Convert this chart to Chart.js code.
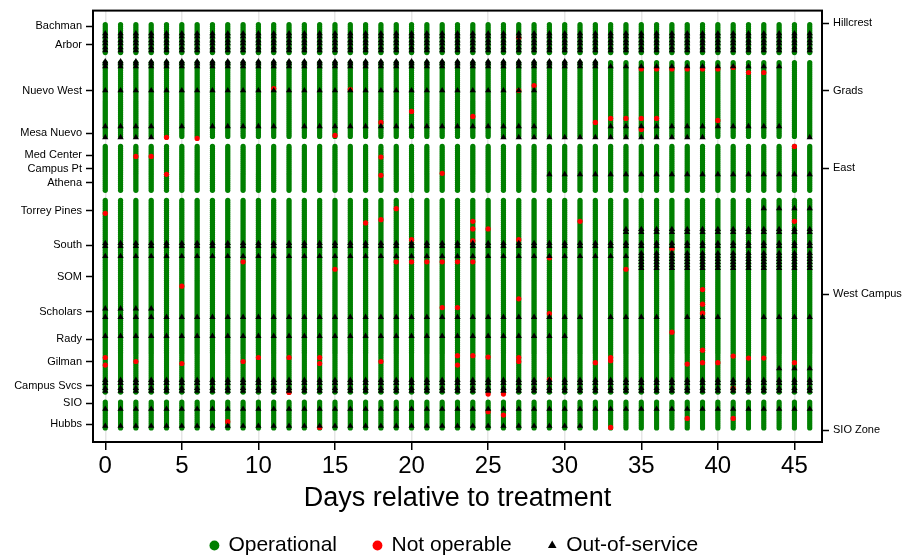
<!DOCTYPE html>
<html>
<head>
<meta charset="utf-8">
<script src="https://cdn.jsdelivr.net/npm/chart.js@4.4.1/dist/chart.umd.min.js"></script>
<style>
  html, body { margin: 0; padding: 0; background: #fff; }
  #wrap { width: 909px; height: 556px; position: relative; }
</style>
</head>
<body>
<div id="wrap"><canvas id="chart"></canvas></div>
<script>
// --- Data ---
const days = [0, 1, 2, 3, 4, 5, 6, 7, 8, 9, 10, 11, 12, 13, 14, 15, 16, 17, 18, 19, 20, 21, 22, 23,
              24, 25, 26, 27, 28, 29, 30, 31, 32, 33, 34, 35, 36, 37, 38, 39, 40, 41, 42, 43, 44, 45, 46];
const xTicks = [0, 5, 10, 15, 20, 25, 30, 35, 40, 45];

// zones (right axis) and the unit rows they hold
const zoneNames = ['Hillcrest', 'Grads', 'East', 'West Campus', 'SIO Zone'];
const zoneLabelRows = [209.7, 176, 137, 74, 6];
const zoneFirstRow = [195, 153, 126, 25, 7];
const zoneLastRow = [209, 190, 148, 121, 20];

// sites (left axis)
const siteNames = ['Bachman', 'Arbor', 'Nuevo West', 'Mesa Nuevo', 'Med Center', 'Campus Pt', 'Athena',
                   'Torrey Pines', 'South', 'SOM', 'Scholars', 'Rady', 'Gilman', 'Campus Svcs', 'SIO', 'Hubbs'];
const siteRows = [208.2, 199, 176, 154.7, 143.5, 136.9, 129.7, 115.7, 98.5, 82.7, 65.2, 51.4, 40.2, 28.2, 19.4, 8.9];

// out-of-service units: [row, first day, last day]
const outRuns = [
  [204.5, 0, 46], [203, 0, 46], [201, 0, 46], [199.5, 0, 46], [197.5, 0, 46], [196, 0, 46],
  [190.5, 0, 32], [189.5, 0, 32], [188, 0, 44],
  [176, 0, 28],
  [158, 0, 28], [158, 33, 44],
  [152.5, 0, 3], [152.5, 26, 39], [152.5, 46, 46],
  [134, 29, 46],
  [117, 43, 46],
  [106.5, 34, 46], [105, 34, 46],
  [99.5, 0, 46], [98, 0, 46],
  [94.5, 35, 46], [93, 0, 46], [91.5, 35, 46], [90, 35, 46], [88.5, 35, 46], [87, 35, 46],
  [66.8, 0, 3],
  [62.5, 0, 46],
  [53, 0, 30],
  [36.8, 44, 46],
  [31, 0, 46], [29.5, 0, 46], [27, 0, 46], [25.5, 0, 46],
  [16.5, 0, 46], [8, 0, 31]
];
const outSkip = [[4, 158], [6, 158], [12, 158], [32, 62.5], [37, 62.5], [41, 62.5], [42, 62.5]];

// not operable units: [day, row]
const notOperable = [
  [27, 202.5],
  [11, 177], [16, 176.5], [27, 176], [28, 178.5],
  [20, 165.5], [18, 160], [24, 163], [15, 153.5], [4, 152.5], [6, 152],
  [35, 186.8], [36, 186.8], [37, 186.8], [38, 186.8], [39, 186.8], [40, 186.8], [41, 187.5], [42, 185], [43, 185],
  [32, 160], [33, 162], [34, 162], [35, 162], [35, 156.5], [36, 162], [40, 161],
  [2, 143], [3, 143], [4, 134], [18, 142.7], [18, 133.5], [22, 134.5], [45, 148],
  [0, 114.5], [17, 109.7], [18, 111.3], [19, 116.8], [24, 110.5], [31, 110.5], [45, 110.5],
  [20, 101.3], [24, 106.7], [24, 100.7], [25, 106.7], [27, 101.3], [37, 96.8],
  [9, 90.2], [15, 86.5], [19, 90.2], [20, 90.2], [21, 90.2], [22, 90.2], [23, 90.2], [24, 90.2], [29, 92.2], [34, 86.5],
  [5, 78], [22, 67.3], [23, 67.3], [27, 71.7], [29, 64.3], [39, 76.3], [39, 69], [39, 64.5], [37, 55],
  [0, 42.3], [0, 38.5], [2, 40.3], [5, 39.3], [9, 40.3], [10, 42.3], [12, 42.3], [14, 42.3], [14, 39.3],
  [18, 40.3], [23, 43.2], [23, 38.5], [24, 43.2], [25, 42.5], [27, 42.3], [27, 40.3],
  [32, 39.7], [33, 42.3], [33, 40.7], [38, 39], [39, 46], [39, 39.7], [40, 39.7], [41, 43], [42, 42], [43, 42], [45, 39.7],
  [12, 24.8], [25, 24], [26, 24], [29, 31.3], [41, 26.8],
  [8, 10.2], [14, 7.3], [25, 15.2], [26, 13.5], [33, 7.3], [38, 11.8], [41, 11.8]
];

// --- Build point lists ---
const operationalPts = [];
days.forEach(d => {
  zoneFirstRow.forEach((lo, z) => {
    for (let r = lo; r <= zoneLastRow[z]; r++) operationalPts.push({ x: d, y: r });
  });
});

const outPts = [];
outRuns.forEach(([row, d0, d1]) => {
  days.forEach(d => {
    if (d < d0 || d > d1) return;
    if (outSkip.some(([sd, sr]) => sd === d && sr === row)) return;
    outPts.push({ x: d, y: row });
  });
});

const redPts = notOperable.map(([d, r]) => ({ x: d, y: r }));

// --- Chart ---
Chart.defaults.font.family = '"Liberation Sans", Arial, sans-serif';
Chart.defaults.color = '#000';

const legendHeight = 58;
const legendFit = {
  id: 'legendFit',
  beforeInit(chart) {
    const fit = chart.legend.fit;
    chart.legend.fit = function () { fit.call(this); this.height = legendHeight; };
  }
};

const frame = {
  id: 'frame',
  afterDatasetsDraw(chart) {
    const { ctx, chartArea: a } = chart;
    ctx.save();
    ctx.strokeStyle = '#000';
    ctx.lineWidth = 2;
    ctx.strokeRect(a.left, a.top, a.right - a.left, a.bottom - a.top);
    ctx.restore();
  }
};

new Chart(document.getElementById('chart'), {
  type: 'scatter',
  data: {
    datasets: [
      { label: 'Operational', data: operationalPts, pointStyle: 'circle', pointRadius: 2.6,
        backgroundColor: '#008000', borderColor: '#008000', borderWidth: 0, order: 3 },
      { label: 'Not operable', data: redPts, pointStyle: 'circle', pointRadius: 2.6,
        backgroundColor: '#ff0000', borderColor: '#ff0000', borderWidth: 0, order: 2 },
      { label: 'Out-of-service', data: outPts, pointStyle: 'triangle', pointRadius: 3.6,
        backgroundColor: '#000', borderColor: '#000', borderWidth: 0, order: 1 }
    ]
  },
  options: {
    responsive: true,
    maintainAspectRatio: false,
    animation: false,
    events: [],
    layout: { padding: { top: 10, left: 0, right: 0, bottom: 0 } },
    scales: {
      x: {
        type: 'linear', min: -0.8, max: 46.8,
        afterBuildTicks: s => { s.ticks = xTicks.map(v => ({ value: v })); },
        afterFit: s => { s.height = 114 - legendHeight; },
        grid: { color: '#e6e6e6', lineWidth: 1.5, tickColor: '#000', tickLength: 8, tickWidth: 1.5 },
        border: { color: '#000', width: 2 },
        ticks: { font: { size: 24 }, padding: 2, maxRotation: 0, autoSkip: false },
        title: { display: true, text: 'Days relative to treatment', font: { size: 27, lineHeight: 1 },
                 padding: { top: 0, bottom: -14 } }
      },
      y: {
        type: 'linear', position: 'left', min: 0, max: 216,
        afterBuildTicks: s => { s.ticks = siteRows.map(v => ({ value: v })); },
        afterFit: s => { s.width = 93; },
        ticks: { autoSkip: false, font: { size: 11 }, padding: 4, callback: (v, i) => siteNames[i] },
        grid: { drawOnChartArea: false, tickLength: 7, tickColor: '#000', tickWidth: 1.5 },
        border: { color: '#000', width: 2 }
      },
      y2: {
        type: 'linear', position: 'right', min: 0, max: 216,
        afterBuildTicks: s => { s.ticks = zoneLabelRows.map(v => ({ value: v })); },
        afterFit: s => { s.width = 87; },
        ticks: { autoSkip: false, font: { size: 11 }, padding: 4, callback: (v, i) => zoneNames[i] },
        grid: { drawOnChartArea: false, tickLength: 7, tickColor: '#000', tickWidth: 1.5 },
        border: { color: '#000', width: 2 }
      }
    },
    plugins: {
      tooltip: { enabled: false },
      legend: {
        position: 'bottom',
        labels: {
          usePointStyle: true, boxWidth: 7, boxHeight: 7, padding: 37, font: { size: 21 },
          sort: (a, b) => a.datasetIndex - b.datasetIndex
        }
      }
    }
  },
  plugins: [legendFit, frame]
});
</script>
</body>
</html>
